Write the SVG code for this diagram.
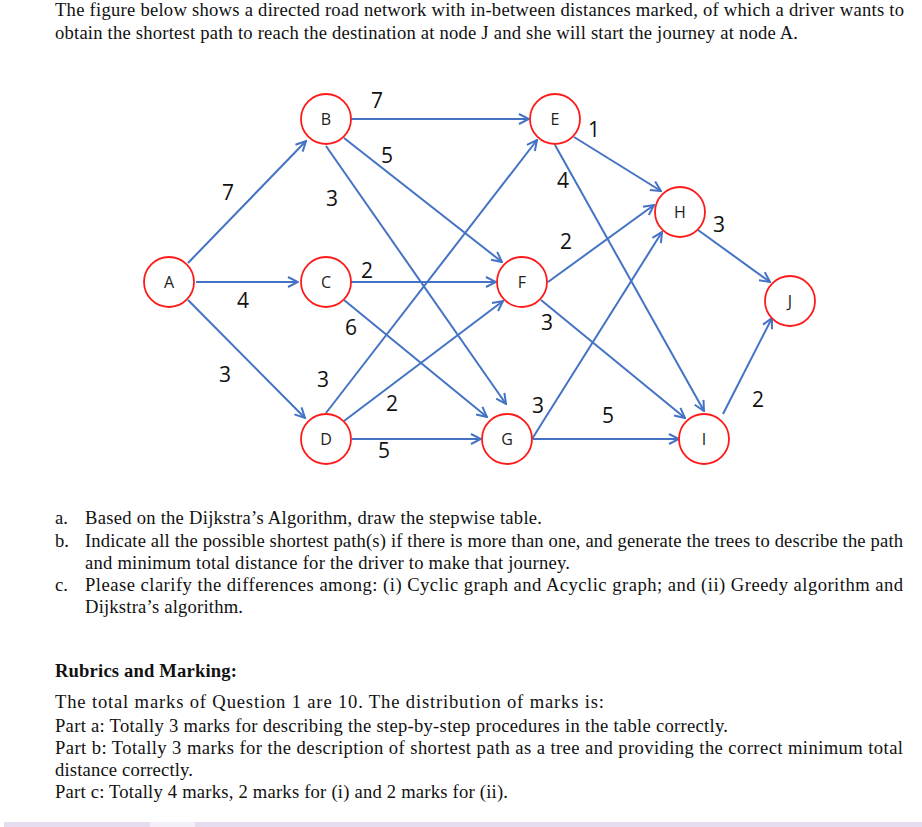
<svg xmlns="http://www.w3.org/2000/svg" width="922" height="827" viewBox="0 0 922 827">
<defs>
<style>
.t{font-family:"Liberation Serif","Times New Roman",serif;font-size:18.6px;fill:#111}
.b{font-weight:bold}
.n circle{fill:#fff;stroke:#ff1a1a;stroke-width:1.8}
.n text{font-family:"Open Sans","Noto Sans",sans-serif;font-size:16px;fill:#222;text-anchor:middle}
.e line{stroke:#4472c4;stroke-width:2;marker-end:url(#ah)}
.w{font-family:"Open Sans","Noto Sans",sans-serif;font-size:21px;fill:#111;text-anchor:middle}
</style>
<marker id="ah" viewBox="0 0 12 12" refX="11" refY="6" markerWidth="12" markerHeight="12" markerUnits="userSpaceOnUse" orient="auto">
<path d="M1,1 L11,6 L1,11" fill="none" stroke="#4472c4" stroke-width="2"/>
</marker>
</defs>
<rect width="922" height="827" fill="#fff"/>

<text class="t" x="55" y="16" textLength="849" lengthAdjust="spacing">The figure below shows a directed road network with in-between distances marked, of which a driver wants to</text>
<text class="t" x="55" y="39" textLength="743" lengthAdjust="spacing">obtain the shortest path to reach the destination at node J and she will start the journey at node A.</text>

<g id="edges" class="e">
<line x1="188" y1="263" x2="306" y2="141"/>
<line x1="196" y1="282" x2="298" y2="282"/>
<line x1="188" y1="300" x2="305" y2="418"/>
<line x1="351" y1="119" x2="529" y2="119"/>
<line x1="344" y1="138" x2="502" y2="262"/>
<line x1="326" y1="146" x2="506" y2="404"/>
<line x1="351" y1="282" x2="496" y2="282"/>
<line x1="344" y1="300" x2="487" y2="417"/>
<line x1="326" y1="413" x2="537" y2="140"/>
<line x1="344" y1="421" x2="503" y2="301"/>
<line x1="352" y1="439" x2="481" y2="439"/>
<line x1="574" y1="137" x2="661" y2="191"/>
<line x1="555" y1="145" x2="704" y2="411"/>
<line x1="548" y1="282" x2="654" y2="205"/>
<line x1="541" y1="300" x2="685" y2="418"/>
<line x1="532" y1="439" x2="662" y2="232"/>
<line x1="533" y1="439" x2="679" y2="439"/>
<line x1="698" y1="230" x2="770" y2="282"/>
<line x1="723" y1="414" x2="772" y2="318"/>
</g>

<g id="edge-labels">
<text class="w" x="228" y="200">7</text>
<text class="w" x="377" y="108">7</text>
<text class="w" x="387" y="163">5</text>
<text class="w" x="332" y="206">3</text>
<text class="w" x="594" y="137">1</text>
<text class="w" x="563" y="188">4</text>
<text class="w" x="566" y="249">2</text>
<text class="w" x="719" y="232">3</text>
<text class="w" x="367" y="278">2</text>
<text class="w" x="243" y="308">4</text>
<text class="w" x="351" y="335">6</text>
<text class="w" x="225" y="382">3</text>
<text class="w" x="323" y="387">3</text>
<text class="w" x="392" y="411">2</text>
<text class="w" x="384" y="458">5</text>
<text class="w" x="547" y="330">3</text>
<text class="w" x="538" y="413">3</text>
<text class="w" x="608" y="423">5</text>
<text class="w" x="758" y="407">2</text>
</g>

<g id="A" class="n"><circle cx="169" cy="282" r="25"/><text x="169" y="288">A</text></g>
<g id="B" class="n"><circle cx="326" cy="119" r="25"/><text x="326" y="125">B</text></g>
<g id="C" class="n"><circle cx="326" cy="282" r="25"/><text x="326" y="288">C</text></g>
<g id="D" class="n"><circle cx="326" cy="439" r="25"/><text x="326" y="445">D</text></g>
<g id="E" class="n"><circle cx="555" cy="119" r="25"/><text x="555" y="125">E</text></g>
<g id="F" class="n"><circle cx="522" cy="282" r="25"/><text x="522" y="288">F</text></g>
<g id="G" class="n"><circle cx="507" cy="439" r="25"/><text x="507" y="445">G</text></g>
<g id="H" class="n"><circle cx="680" cy="212" r="25"/><text x="680" y="218">H</text></g>
<g id="I" class="n"><circle cx="704" cy="439" r="25"/><text x="704" y="445">I</text></g>
<g id="J" class="n"><circle cx="790" cy="301" r="25"/><text x="790" y="307">J</text></g>

<text class="t" x="55" y="524">a.</text>
<text class="t" x="85" y="524" textLength="457" lengthAdjust="spacing">Based on the Dijkstra’s Algorithm, draw the stepwise table.</text>
<text class="t" x="55" y="547">b.</text>
<text class="t" x="85" y="547" textLength="818" lengthAdjust="spacing">Indicate all the possible shortest path(s) if there is more than one, and generate the trees to describe the path</text>
<text class="t" x="85" y="569" textLength="485" lengthAdjust="spacing">and minimum total distance for the driver to make that journey.</text>
<text class="t" x="55" y="591">c.</text>
<text class="t" x="85" y="591" textLength="818" lengthAdjust="spacing">Please clarify the differences among: (i) Cyclic graph and Acyclic graph; and (ii) Greedy algorithm and</text>
<text class="t" x="85" y="613" textLength="158" lengthAdjust="spacing">Dijkstra’s algorithm.</text>

<text class="t b" x="55" y="677" textLength="182" lengthAdjust="spacing">Rubrics and Marking:</text>
<text class="t" x="55" y="708" textLength="549" lengthAdjust="spacing">The total marks of Question 1 are 10. The distribution of marks is:</text>
<text class="t" x="55" y="732" textLength="673" lengthAdjust="spacing">Part a: Totally 3 marks for describing the step-by-step procedures in the table correctly.</text>
<text class="t" x="55" y="754" textLength="848" lengthAdjust="spacing">Part b: Totally 3 marks for the description of shortest path as a tree and providing the correct minimum total</text>
<text class="t" x="55" y="776" textLength="138" lengthAdjust="spacing">distance correctly.</text>
<text class="t" x="55" y="798" textLength="453" lengthAdjust="spacing">Part c: Totally 4 marks, 2 marks for (i) and 2 marks for (ii).</text>

<rect x="4" y="822" width="918" height="5" fill="#e6dcef"/>
<rect x="150" y="822" width="45" height="5" fill="#f3eef7"/>
</svg>
